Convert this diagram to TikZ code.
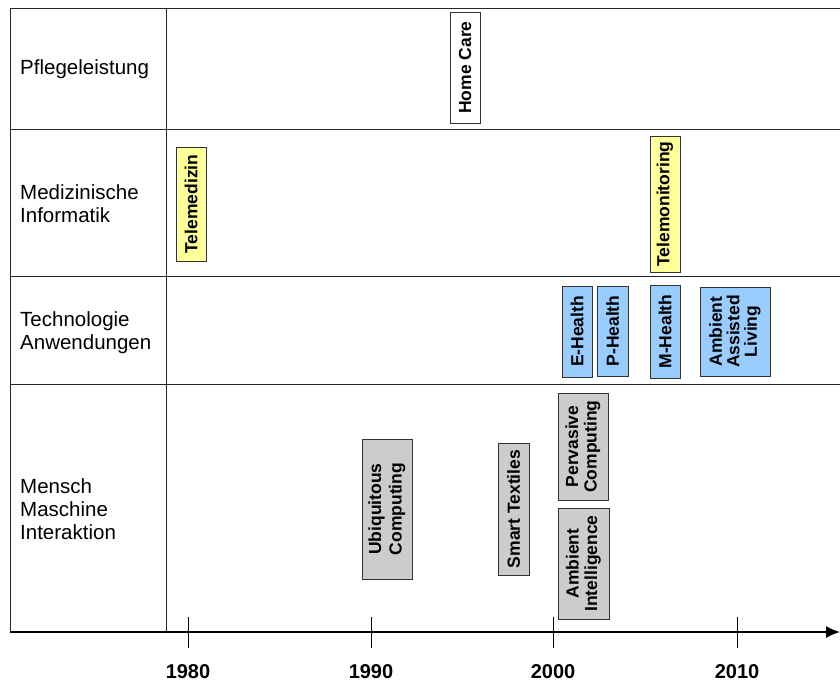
\documentclass[tikz,border=0pt]{standalone}
\usepackage{fontspec}
\setmainfont{Liberation Sans}
\usetikzlibrary{arrows.meta}
\definecolor{boxyellow}{HTML}{FFFF99}
\definecolor{boxblue}{HTML}{99CCFF}
\definecolor{boxgray}{HTML}{CCCCCC}
\begin{document}
\begin{tikzpicture}[x=1pt,y=-1pt,
  grid/.style={line width=0.9pt,black!85},
  rowlabel/.style={anchor=west,align=left,inner sep=0pt,
    font=\fontsize{20.5}{23}\selectfont},
  era/.style={draw=black!80,line width=0.8pt,rotate=90,inner sep=0pt,
    align=center,font=\bfseries\fontsize{17.5}{18.5}\selectfont},
  yearlabel/.style={font=\bfseries\fontsize{20}{22}\selectfont,inner sep=0pt},
  tick/.style={line width=0.9pt}]
\useasboundingbox (0,0) rectangle (840,686);

% table frame
\coordinate (tl) at (10,8);
\coordinate (tr) at (840,8);
\coordinate (bl) at (10,632);
\coordinate (ax) at (840,632);
\coordinate (sepTop) at (166,8);
\coordinate (sepBot) at (166,632);
\draw[grid] (tl) -- (tr);
\draw[grid] (10,129) -- (840,129);
\draw[grid] (10,276) -- (840,276);
\draw[grid] (10,384) -- (840,384);
\draw[grid] (tl) -- (bl);
\draw[grid] (sepTop) -- (sepBot);

% time axis
\draw[line width=1.3pt,-{Latex[length=14pt,width=12pt]}] (bl) -- (ax);
\foreach \x/\y in {188/1980,371/1990,553/2000,737/2010}{
  \draw[tick] (\x,617) -- (\x,648);
  \node[yearlabel] (y\y) at (\x,672) {\y};
}

% row labels
\node[rowlabel] (r1) at (20,69) {Pflegeleistung};
\node[rowlabel] (r2) at (20,203.5) {Medizinische\\Informatik};
\node[rowlabel] (r3) at (20,332.5) {Technologie\\Anwendungen};
\node[rowlabel] (r4) at (20,509) {Mensch\\Maschine\\Interaktion};

% Pflegeleistung
\node[era,fill=white,minimum width=111pt,minimum height=30pt] (homecare) at (465,67.5) {Home Care};

% Medizinische Informatik
\node[era,fill=boxyellow,minimum width=114pt,minimum height=30pt] (telemed) at (191,204) {Telemedizin};
\node[era,fill=boxyellow,minimum width=136pt,minimum height=30pt] (telemon) at (665,204) {Telemonitoring};

% Technologie Anwendungen
\node[era,fill=boxblue,minimum width=91pt,minimum height=30pt] (ehealth) at (577,331.5) {E-Health};
\node[era,fill=boxblue,minimum width=90pt,minimum height=31pt] (phealth) at (612.5,331) {P-Health};
\node[era,fill=boxblue,minimum width=93pt,minimum height=30pt] (mhealth) at (665,331.5) {M-Health};
\node[era,fill=boxblue,minimum width=89pt,minimum height=70pt,
  font=\bfseries\fontsize{17.5}{17.5}\selectfont] (aal) at (735,331.5) {Ambient\\Assisted\\Living};

% Mensch Maschine Interaktion
\node[era,fill=boxgray,minimum width=140pt,minimum height=50pt,
  font=\bfseries\fontsize{17.5}{20.5}\selectfont] (ubicomp) at (387,509) {Ubiquitous\\Computing};
\node[era,fill=boxgray,minimum width=132pt,minimum height=31pt] (smarttex) at (513.5,509) {Smart Textiles};
\node[era,fill=boxgray,minimum width=107pt,minimum height=50pt] (pervasive) at (583,446.5) {Pervasive\\Computing};
\node[era,fill=boxgray,minimum width=111pt,minimum height=51pt] (ambint) at (583.5,563.5) {Ambient\\Intelligence};
\end{tikzpicture}
\end{document}
